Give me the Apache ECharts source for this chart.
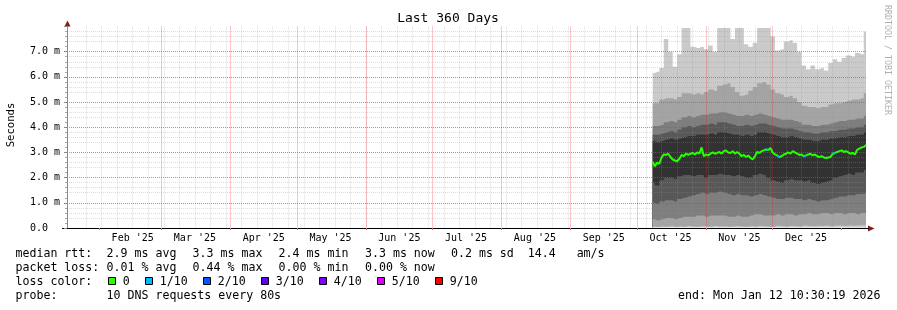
<!DOCTYPE html>
<html><head><meta charset="utf-8">
<script src="https://cdn.jsdelivr.net/npm/echarts@6/dist/echarts.min.js"></script>
<style>html,body{margin:0;padding:0;background:#fff}#c{width:897px;height:310px}</style>
</head><body><div id="c"></div>
<script>
// ---------- data ----------
const titleText = 'Last 360 Days';
const yAxisName = 'Seconds';
const watermark = 'RRDTOOL / TOBI OETIKER';
const startTime = '2025-01-17 10:30:19';
const endTime = '2026-01-12 10:30:19';
const monthStarts = ['2025-02-01','2025-03-01','2025-04-01','2025-05-01','2025-06-01','2025-07-01','2025-08-01','2025-09-01','2025-10-01','2025-11-01','2025-12-01','2026-01-01'];
const monthLabelDates = ['2025-02-16','2025-03-16','2025-04-16','2025-05-16','2025-06-16','2025-07-16','2025-08-16','2025-09-16','2025-10-16','2025-11-16','2025-12-16'];
const monthLabels = ["Feb '25","Mar '25","Apr '25","May '25","Jun '25","Jul '25","Aug '25","Sep '25","Oct '25","Nov '25","Dec '25"];
const firstWeekLine = '2025-01-19';
const yTickLabels = ['0.0','1.0 m','2.0 m','3.0 m','4.0 m','5.0 m','6.0 m','7.0 m'];

const smokeStart = '2025-10-08';   // one sample every 2 days
const ping1  = [0.02,0.02,0.02,0.02,0.02,0.02,0.02,0.02,0.02,0.02,0.02,0.02,0.02,0.02,0.02,0.02,0.02,0.02,0.02,0.02,0.02,0.02,0.02,0.02,0.02,0.02,0.02,0.02,0.02,0.02,0.02,0.02,0.02,0.02,0.02,0.02,0.02,0.02,0.02,0.02,0.02,0.02,0.02,0.02,0.02,0.02,0.02,0.02,0.02];
const ping2  = [0.05,0.04,0.06,0.05,0.07,0.05,0.06,0.05,0.08,0.06,0.05,0.07,0.06,0.05,0.08,0.06,0.07,0.05,0.06,0.08,0.06,0.05,0.07,0.06,0.08,0.07,0.06,0.05,0.09,0.07,0.06,0.08,0.07,0.06,0.1,0.08,0.07,0.09,0.08,0.1,0.07,0.09,0.1,0.08,0.1,0.09,0.1,0.11,0.12];
const ping3  = [0.35,0.3,0.35,0.4,0.4,0.35,0.4,0.45,0.45,0.45,0.5,0.5,0.45,0.5,0.5,0.5,0.5,0.45,0.45,0.5,0.45,0.45,0.5,0.55,0.55,0.5,0.5,0.5,0.55,0.5,0.55,0.55,0.5,0.55,0.55,0.6,0.55,0.55,0.6,0.6,0.55,0.6,0.6,0.55,0.6,0.6,0.55,0.6,0.6];
const ping4  = [1.0,0.95,1.05,1.1,1.1,1.05,1.15,1.2,1.25,1.3,1.35,1.4,1.35,1.4,1.4,1.45,1.4,1.35,1.3,1.35,1.3,1.3,1.25,1.3,1.35,1.3,1.25,1.2,1.15,1.15,1.2,1.2,1.15,1.15,1.1,1.15,1.1,1.05,1.1,1.1,1.15,1.2,1.25,1.25,1.3,1.3,1.35,1.35,1.4];
const ping5  = [1.8,1.7,1.9,2.0,2.0,1.95,2.05,2.1,2.1,2.05,2.1,2.1,2.0,2.1,2.1,2.15,2.1,2.1,2.05,2.1,2.05,2.0,2.0,2.1,2.15,2.1,2.0,1.9,1.85,1.8,1.9,1.95,1.9,1.9,1.85,1.9,1.8,1.75,1.8,1.85,1.9,2.0,2.05,2.1,2.15,2.1,2.2,2.2,2.3];
const ping6  = [3.45,3.4,3.45,3.5,3.55,3.5,3.55,3.6,3.65,3.65,3.7,3.7,3.7,3.75,3.7,3.8,3.8,3.75,3.7,3.7,3.65,3.7,3.65,3.7,3.8,3.8,3.75,3.7,3.65,3.6,3.6,3.65,3.6,3.55,3.5,3.5,3.45,3.45,3.5,3.5,3.55,3.55,3.6,3.6,3.65,3.65,3.7,3.7,3.8];
const ping7  = [3.7,3.7,3.75,3.8,3.85,3.8,3.9,4.0,4.05,4.0,4.05,4.1,4.1,4.15,4.1,4.2,4.2,4.15,4.1,4.05,4.05,4.1,4.05,4.1,4.15,4.15,4.1,4.05,4.0,3.95,3.95,3.95,3.9,3.85,3.8,3.8,3.75,3.75,3.8,3.8,3.85,3.85,3.9,3.9,3.95,3.95,4.0,4.0,4.1];
const ping8  = [4.05,4.05,4.1,4.2,4.25,4.2,4.3,4.4,4.45,4.4,4.45,4.5,4.5,4.55,4.55,4.6,4.6,4.55,4.5,4.45,4.45,4.5,4.45,4.5,4.55,4.5,4.45,4.4,4.35,4.3,4.3,4.3,4.25,4.2,4.1,4.1,4.05,4.05,4.1,4.1,4.15,4.2,4.25,4.25,4.3,4.3,4.35,4.35,4.45];
const ping9  = [4.95,4.95,5.1,5.15,5.15,5.1,5.2,5.35,5.35,5.3,5.35,5.3,5.4,5.5,5.45,5.65,5.7,5.75,5.6,5.4,5.25,5.3,5.45,5.6,5.75,5.8,5.7,5.5,5.35,5.3,5.2,5.25,5.15,5.0,4.85,4.8,4.8,4.75,4.8,4.8,4.9,4.95,4.95,5.0,5.05,5.1,5.1,5.15,5.35];
const ping10 = [6.15,6.2,6.35,7.5,7.0,6.4,6.9,7.94,7.94,7.2,7.15,7.2,7.1,7.25,7.0,7.94,7.94,7.94,7.5,7.94,7.94,7.3,7.2,7.35,7.94,7.94,7.94,7.6,7.05,7.1,7.4,7.45,7.35,7.0,6.45,6.3,6.45,6.3,6.35,6.25,6.55,6.7,6.6,6.75,6.85,6.8,6.95,6.9,7.8];

const medianStart = '2025-10-08';  // one sample per day
const median = [2.63,2.45,2.6,2.55,2.8,2.92,2.9,2.95,2.82,2.72,
  2.68,2.65,2.75,2.9,2.85,2.95,2.9,2.95,2.98,2.92,
  3.0,2.95,3.2,2.85,2.92,2.88,2.95,3.0,2.95,2.98,
  3.02,2.95,3.05,3.08,3.0,2.98,3.05,2.95,3.02,2.95,
  2.85,2.9,2.82,2.88,2.78,2.72,2.85,3.02,2.98,3.05,
  3.08,3.12,3.1,3.18,3.0,2.92,2.88,2.82,2.85,2.92,
  2.95,3.0,2.95,3.05,3.0,2.95,2.9,2.92,2.85,2.88,
  2.92,2.95,2.88,2.92,2.85,2.82,2.85,2.8,2.78,2.8,
  2.82,2.95,2.98,3.02,3.05,3.08,3.02,3.05,3.0,2.95,
  2.98,2.92,3.1,3.15,3.2,3.22,3.3];
const lossDates = ['2025-11-28','2025-12-03','2025-12-15','2025-12-28'];
const lossLevels = [1,1,1,1];

// outer band -> inner band colours (smokeping 10-ping shades)
const smokeShades = ['#cacaca','#a4a4a4','#7e7e7e','#585858','#323232'];
const lossColors = ['#26ff00','#00b8ff','#0059ff','#5e00ff','#7e00ff','#dd00ff','#ff0000'];
const lossColorLabels = ['0','1/10','2/10','3/10','4/10','5/10','9/10'];
const medianRow = ['median rtt:','2.9 ms avg','3.3 ms max','2.4 ms min','3.3 ms now','0.2 ms sd  14.4   am/s'];
const lossRow = ['packet loss:','0.01 % avg','0.44 % max','0.00 % min','0.00 % now'];
const probeRow = ['probe:','10 DNS requests every 80s'];
const endText = 'end: Mon Jan 12 10:30:19 2026';

// ---------- helpers ----------
function ts(s){
  const [d,t='00:00:00'] = s.split(' ');
  const [Y,M,D] = d.split('-').map(Number);
  const [h,mi,se] = t.split(':').map(Number);
  return new Date(Y,M-1,D,h,mi,se).getTime();
}
function dayList(start, n, step){
  const [Y,M,D] = start.split('-').map(Number);
  const out = [];
  for (let i=0;i<n;i++) out.push(new Date(Y,M-1,D+i*step).getTime());
  return out;
}
const tMin = ts(startTime), tMax = ts(endTime);
const smokeT = dayList(smokeStart, ping1.length, 2);
const medT = dayList(medianStart, median.length, 1);
const weekT = [];
{ const [Y,M,D]=firstWeekLine.split('-').map(Number);
  for (let i=0;;i++){ const t=new Date(Y,M-1,D+7*i).getTime(); if (t>=tMax) break; weekT.push(t);} }
const monthT = monthStarts.map(s=>ts(s)).filter(t=>t<tMax);
const labelT = monthLabelDates.map(s=>ts(s));
const labelMap = new Map(labelT.map((t,i)=>[t, monthLabels[i]]));

const FONT = 'DejaVu Sans Mono';
const GRAY = 'rgba(150,150,150,0.32)';
const RED = 'rgba(245,30,30,0.5)';

// ---------- series ----------
// smoke: painter's layering of areas from the zero line
const layers = [
  [ping10, smokeShades[0]], [ping9, smokeShades[1]], [ping8, smokeShades[2]], [ping7, smokeShades[3]], [ping6, smokeShades[4]],
  [ping5, smokeShades[3]], [ping4, smokeShades[2]], [ping3, smokeShades[1]], [ping2, smokeShades[0]], [ping1, '#ffffff']
];
const series = layers.map(([arr, col]) => ({
  type:'line', step:'middle', symbol:'none', silent:true, z:1,
  lineStyle:{width:0, opacity:0, color:col}, itemStyle:{color:col},
  areaStyle:{color:col, opacity:1, origin:'start'},
  data: smokeT.map((t,j)=>[t, arr[j]])
}));
// median line
series.push({type:'line', z:5, symbol:'none', silent:true, lineStyle:{color:lossColors[0], width:2},
  data: medT.map((t,j)=>[t, median[j]])});
// loss-coloured segments
const lossData = medT.map((t)=>[t, null]);
lossDates.forEach((d)=>{ const t=ts(d); const j=medT.indexOf(t); if (j>=0){ lossData[j]=[medT[j],median[j]]; if (j+1<medT.length) lossData[j+1]=[medT[j+1],median[j+1]]; }});
series.push({type:'line', z:6, symbol:'none', silent:true, connectNulls:false,
  lineStyle:{color:lossColors[lossLevels[0]], width:2}, data: lossData});

// ---------- graphics ----------
const g = [];
function txt(x,y,s,size,opts={}){
  const el = {type:'text', x, y, silent:true, style:{text:s, fill:opts.fill||'#000',
    font: size+'px "'+FONT+'"', align:opts.align||'left', verticalAlign:'middle',
    textAlign:opts.align||'left', textVerticalAlign:'middle'}};
  if (opts.rotation!==undefined) el.rotation = opts.rotation;
  g.push(el);
}
txt(448, 19, titleText, 13, {align:'center'});
txt(11.5, 125, yAxisName, 10.6, {align:'center', rotation:Math.PI/2});
txt(887, 60, watermark, 8.3, {align:'center', rotation:-Math.PI/2, fill:'#b0b0b0'});
const colX = [15.5, 106.6, 192.6, 278.6, 365, 451];
medianRow.forEach((s,i)=>txt(colX[i], 254.3, s, 11.6));
lossRow.forEach((s,i)=>txt(colX[i], 268.3, s, 11.6));
txt(colX[0], 282.3, 'loss color:', 11.6);
const boxX = [108.5,145.5,203.5,261.5,319.5,377.5,435.5];
lossColors.forEach((c,i)=>{
  g.push({type:'rect', silent:true, shape:{x:boxX[i], y:277.5, width:7, height:7}, style:{fill:c, stroke:'#000', lineWidth:1}});
  txt(boxX[i]+14.2, 282.3, lossColorLabels[i], 11.6);
});
probeRow.forEach((s,i)=>txt(colX[i], 296.3, s, 11.6));
txt(880.5, 296.3, endText, 11.6, {align:'right'});
g.push({type:'polygon', silent:true, shape:{points:[[67.5,20.5],[64.5,26.5],[70.5,26.5]]}, style:{fill:'#8b1a1a'}});
g.push({type:'polygon', silent:true, shape:{points:[[874.5,228.5],[868,225.5],[868,231.5]]}, style:{fill:'#8b1a1a'}});
g.push({type:'line', silent:true, shape:{x1:62, y1:228.5, x2:68, y2:228.5}, style:{stroke:'#000', lineWidth:1}});
g.push({type:'line', silent:true, shape:{x1:866, y1:228.5, x2:869, y2:228.5}, style:{stroke:'#000', lineWidth:1}});

const chart = echarts.init(document.getElementById('c'), null, {renderer:'canvas'});
chart.setOption({
  animation:false,
  backgroundColor:'#ffffff',
  grid:{left:67, right:30, top:26.5, bottom:82, containLabel:false},
  xAxis:[
    {type:'value', min:tMin, max:tMax, z:4,
      axisLine:{show:true, lineStyle:{color:'#000', width:1}},
      axisTick:{show:true, customValues:monthT, length:2, lineStyle:{color:'#e07070'}},
      axisLabel:{show:true, customValues:labelT, formatter:(v)=>labelMap.get(v)||'', color:'#000',
        fontFamily:FONT, fontSize:10, margin:5, hideOverlap:false},
      splitLine:{show:true, showMinLine:false, showMaxLine:false, lineStyle:{color:RED, type:[1,1], width:1}},
      minorSplitLine:{show:false}},
    {type:'value', min:tMin, max:tMax, z:3, position:'bottom',
      axisLine:{show:false},
      axisTick:{show:false, customValues:weekT},
      axisLabel:{show:false},
      splitLine:{show:true, showMinLine:false, showMaxLine:false, lineStyle:{color:GRAY, type:[1,1], width:1}},
      minorSplitLine:{show:false}}
  ],
  yAxis:[
    {type:'value', min:0, max:8, interval:1, z:4,
      axisLine:{show:true, lineStyle:{color:'#888', width:1}},
      axisTick:{show:true, length:3, lineStyle:{color:'#888'}},
      minorTick:{show:true, splitNumber:5, length:2, lineStyle:{color:'#aaa'}},
      axisLabel:{formatter:(v)=> (yTickLabels[v]!==undefined? yTickLabels[v] : ''), align:'left', margin:37,
        showMaxLabel:false, color:'#000', fontFamily:FONT, fontSize:10},
      splitLine:{show:true, showMaxLine:false, lineStyle:{color:RED, type:[1,1], width:1}},
      minorSplitLine:{show:false}},
    {type:'value', min:0, max:8, interval:0.2, z:3, position:'left',
      axisLine:{show:false}, axisTick:{show:false}, axisLabel:{show:false},
      splitLine:{show:true, showMinLine:false, showMaxLine:false,
        lineStyle:{color:['rgba(0,0,0,0)',GRAY,GRAY,GRAY,GRAY], type:[1,1], width:1}},
      minorSplitLine:{show:false}}
  ],
  series,
  graphic:g
});
</script></body></html>
